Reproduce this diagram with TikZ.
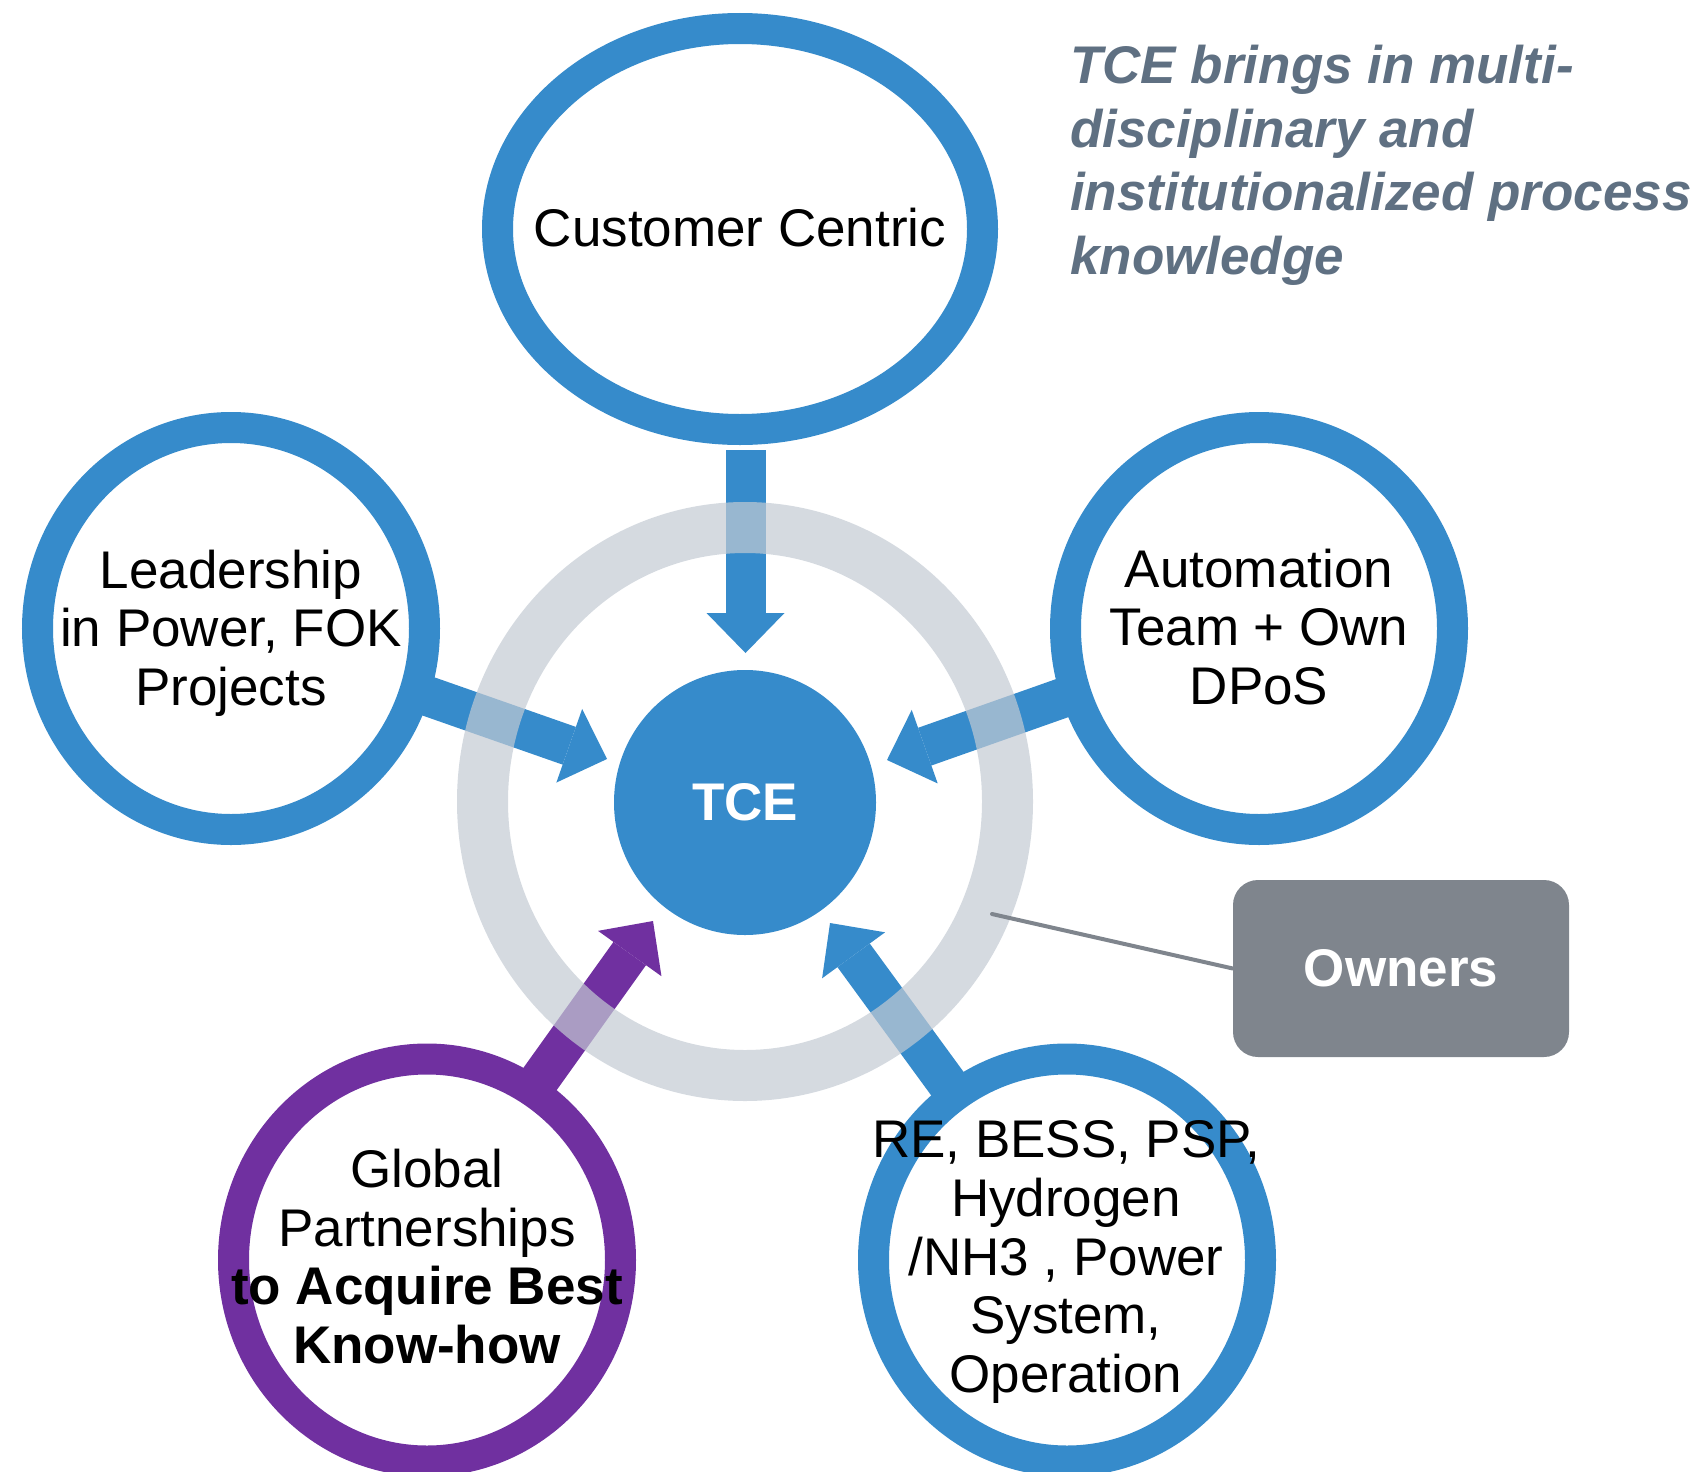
\documentclass[tikz,border=0pt]{standalone}
\usepackage{fontspec}
\setmainfont{Liberation Sans}
\usetikzlibrary{shapes.geometric,arrows.meta}
\definecolor{tceblue}{RGB}{54,139,203}
\definecolor{tcepurple}{RGB}{112,48,160}
\definecolor{ringgrey}{RGB}{195,202,211}
\definecolor{ownergrey}{RGB}{127,133,141}
\definecolor{titlegrey}{RGB}{95,112,130}
\begin{document}
\begin{tikzpicture}[x=1pt,y=-1pt,
  circ/.style={ellipse, draw=tceblue, line width=31pt, fill=white, inner sep=0pt,
               minimum width=387pt, minimum height=402pt},
  lbl/.style={align=center, font=\fontsize{53}{58.6}\selectfont, inner sep=0pt, text=black},
  barrow/.style={draw=tceblue, line width=40pt,
                 -{Triangle[length=40pt,width=78pt,line width=0pt]}},
]
\useasboundingbox (0,0) rectangle (1703,1472);

% arrow end points
\coordinate (s1) at (745.5,450);   \coordinate (t1) at (745.5,653);
\coordinate (s2) at (423,694.5);   \coordinate (t2) at (607,759);
\coordinate (s3) at (1071,695);    \coordinate (t3) at (887,760);
\coordinate (s4) at (525,1100);    \coordinate (t4) at (653,921);
\coordinate (s5) at (954,1092.7);  \coordinate (t5) at (830,923);

% block arrows
\draw[barrow] (s1) -- (t1);
\draw[barrow] (s2) -- (t2);
\draw[barrow] (s3) -- (t3);
\draw[barrow, draw=tcepurple] (s4) -- (t4);
\draw[barrow] (s5) -- (t5);

% outer circles
\node[circ, minimum width=485pt, minimum height=401pt] (cust) at (740,229) {};
\node[circ] (lead) at (231,628.5) {};
\node[circ] (auto) at (1259,628.5) {};
\node[circ, draw=tcepurple] (glob) at (427,1260) {};
\node[circ] (re) at (1067,1260) {};

% translucent ring
\node[ellipse, draw=ringgrey, draw opacity=0.7, line width=51pt, inner sep=0pt,
      minimum width=525pt, minimum height=548pt] (ring) at (745,801.5) {};

% centre
\node[ellipse, fill=tceblue, inner sep=0pt, minimum width=262pt, minimum height=265pt,
      text=white, font=\fontsize{53}{58.6}\selectfont\bfseries] (tce) at (745,802.5) {TCE};

% owners
\coordinate (ownpt) at (992,914);
\node[rectangle, rounded corners=25pt, fill=ownergrey, minimum width=336pt, minimum height=177pt,
      text=white, font=\fontsize{53}{58.6}\selectfont\bfseries] (owners) at (1401,968.5) {Owners};
\draw[ownergrey, line width=4pt, line cap=round] (ownpt) -- (owners.west);

% labels
\node[lbl] (custt) at (740,228) {Customer Centric};
\node[lbl] (leadt) at (231,633) {Leadership\\in Power, FOK\\Projects};
\node[lbl] (autot) at (1259,627) {Automation\\Team + Own\\DPoS};
\node[lbl] (globt) at (427,1256.5) {Global\\Partnerships\\\textbf{to Acquire Best}\\\textbf{Know-how}};
\node[lbl] (ret) at (1066,1262) {RE, BESS, PSP,\\Hydrogen\\/NH3 , Power\\System,\\Operation};

% title
\node[anchor=north west, align=left, inner sep=0pt, text=titlegrey,
      font=\fontsize{53}{63.5}\selectfont\bfseries\itshape] (title) at (1070,45)
  {TCE brings in multi-\\disciplinary and\\institutionalized process\\knowledge};
\end{tikzpicture}
\end{document}
